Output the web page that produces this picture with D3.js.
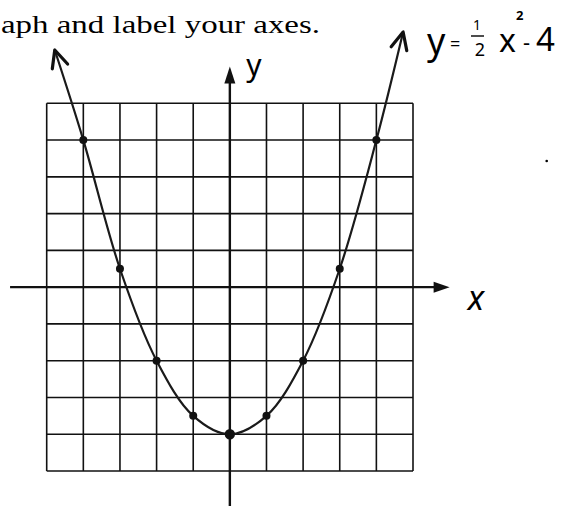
<!DOCTYPE html>
<html>
<head>
<meta charset="utf-8">
<script src="https://cdn.jsdelivr.net/npm/d3@7"></script>
<style>
  html, body { margin: 0; padding: 0; background: #fff; }
  svg { display: block; }
</style>
</head>
<body>
<svg id="chart" width="565" height="506"></svg>
<script>
// ---- data ----
const gridTicks = [-5, -4, -3, -2, -1, 0, 1, 2, 3, 4, 5];
const pointX = [-4, -3, -2, -1, 0, 1, 2, 3, 4];
const pointY = [4, 0.5, -2, -3.5, -4, -3.5, -2, 0.5, 4];
// hand-drawn curve, including where it runs past the grid to the arrow tips
const curveX = [-4.78, -4, -3, -2, -1, 0, 1, 2, 3, 4, 4.73];
const curveY = [6.45, 4, 0.5, -2, -3.5, -4, -3.5, -2, 0.5, 4, 6.94];
const axisExtent = [-6, 6];
const headerText = "aph and label your axes.";
const xLabel = "x";
const yLabel = "y";

// ---- scales ----
const svg = d3.select("#chart");
const x = d3.scaleLinear().domain([-5, 5]).range([46.7, 413]);
const y = d3.scaleLinear().domain([-5, 5]).range([471, 103.3]);
const ink = "#111";

// header (worksheet instructions)
svg.append("text")
  .attr("x", 1).attr("y", 33)
  .attr("font-family", "'Liberation Serif', 'DejaVu Serif', serif")
  .attr("font-size", 26)
  .attr("textLength", 319)
  .attr("lengthAdjust", "spacingAndGlyphs")
  .attr("fill", "#000")
  .text(headerText);

// grid
const grid = svg.append("g").attr("stroke", ink).attr("stroke-width", 1.6).attr("fill", "none");
grid.selectAll("line.v").data(gridTicks).join("line")
  .attr("class", "v")
  .attr("x1", d => x(d)).attr("x2", d => x(d))
  .attr("y1", y(5)).attr("y2", y(-5));
grid.selectAll("line.h").data(gridTicks).join("line")
  .attr("class", "h")
  .attr("y1", d => y(d)).attr("y2", d => y(d))
  .attr("x1", x(-5)).attr("x2", x(5));

// axes with arrowheads
const axes = svg.append("g");
axes.append("line")
  .attr("x1", x(axisExtent[0])).attr("x2", x(axisExtent[1]) - 14)
  .attr("y1", y(0)).attr("y2", y(0))
  .attr("stroke", ink).attr("stroke-width", 2.4);
axes.append("path")
  .attr("d", `M${x(axisExtent[1])},${y(0)} L${x(axisExtent[1]) - 16},${y(0) - 5.5} L${x(axisExtent[1]) - 16},${y(0) + 5.5} Z`)
  .attr("fill", ink);
axes.append("line")
  .attr("x1", x(0)).attr("x2", x(0))
  .attr("y1", y(axisExtent[0])).attr("y2", y(axisExtent[1]) + 14)
  .attr("stroke", ink).attr("stroke-width", 2.4);
axes.append("path")
  .attr("d", `M${x(0)},${y(axisExtent[1])} L${x(0) - 5.5},${y(axisExtent[1]) + 17} L${x(0) + 5.5},${y(axisExtent[1]) + 17} Z`)
  .attr("fill", ink);

// axis labels
svg.append("text")
  .attr("x", 476).attr("y", 310)
  .attr("text-anchor", "middle")
  .attr("font-family", "'Noto Sans', sans-serif")
  .attr("font-size", 34)
  .attr("font-style", "italic")
  .attr("fill", "#000")
  .text(xLabel);
svg.append("text")
  .attr("x", 254).attr("y", 76)
  .attr("text-anchor", "middle")
  .attr("font-family", "'Noto Sans', sans-serif")
  .attr("font-size", 30)
  .attr("fill", "#000")
  .text(yLabel);

// curve
const curvePts = curveX.map((v, i) => [v, curveY[i]]);
const line = d3.line().x(d => x(d[0])).y(d => y(d[1])).curve(d3.curveCatmullRom.alpha(0.5));
svg.append("path")
  .datum(curvePts)
  .attr("d", line)
  .attr("fill", "none")
  .attr("stroke", "#1a1a1a")
  .attr("stroke-width", 2.2)
  .attr("stroke-linejoin", "round");

// open arrowheads at curve ends
function arrowHead(tip, prev) {
  const tx = x(tip[0]), ty = y(tip[1]);
  const px = x(prev[0]), py = y(prev[1]);
  const ang = Math.atan2(py - ty, px - tx);
  const len = 19, spread = 25 * Math.PI / 180;
  const a1 = ang - spread, a2 = ang + spread;
  svg.append("path")
    .attr("d", `M${tx + len * Math.cos(a1)},${ty + len * Math.sin(a1)} L${tx},${ty} L${tx + len * Math.cos(a2)},${ty + len * Math.sin(a2)}`)
    .attr("fill", "none").attr("stroke", ink).attr("stroke-width", 3.2)
    .attr("stroke-linecap", "round").attr("stroke-linejoin", "round");
}
arrowHead(curvePts[0], curvePts[1]);
arrowHead(curvePts[curvePts.length - 1], curvePts[curvePts.length - 2]);

// points
svg.append("g").selectAll("circle").data(pointX.map((v, i) => [v, pointY[i]])).join("circle")
  .attr("cx", d => x(d[0])).attr("cy", d => y(d[1]))
  .attr("r", d => d[0] === 0 ? 5.2 : 4)
  .attr("fill", ink);

// handwritten equation y = 1/2 x^2 - 4
const eq = svg.append("g")
  .attr("font-family", "'Noto Sans', sans-serif")
  .attr("fill", "#000");
eq.append("text").attr("x", 427).attr("y", 54).attr("font-size", 36).text("y");
eq.append("text").attr("x", 450).attr("y", 50).attr("font-size", 18).text("=");
eq.append("text").attr("x", 477).attr("y", 30).attr("font-size", 14).attr("text-anchor", "middle").text("1");
eq.append("line").attr("x1", 471).attr("x2", 484).attr("y1", 36).attr("y2", 36).attr("stroke", "#000").attr("stroke-width", 1.4);
eq.append("text").attr("x", 480).attr("y", 56).attr("font-size", 18).attr("text-anchor", "middle").text("2");
eq.append("text").attr("x", 499).attr("y", 52).attr("font-size", 32).text("x");
eq.append("text").attr("x", 516).attr("y", 20).attr("font-size", 13).attr("font-weight", "bold").text("2");
eq.append("text").attr("x", 523).attr("y", 50).attr("font-size", 22).text("-");
eq.append("text").attr("x", 536).attr("y", 51).attr("font-size", 33).text("4");

// stray specks in the scan
svg.append("circle").attr("cx", 546.7).attr("cy", 161).attr("r", 1.3).attr("fill", "#000");
</script>
</body>
</html>
